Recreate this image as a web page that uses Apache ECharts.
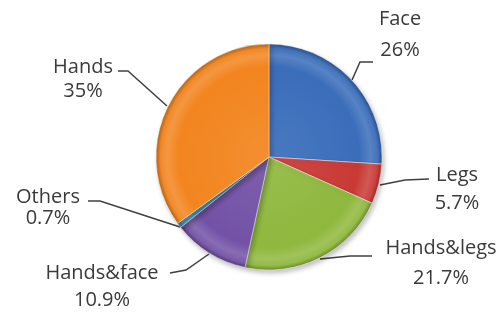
<!DOCTYPE html>
<html>
<head>
<meta charset="utf-8">
<script src="https://cdn.jsdelivr.net/npm/echarts@6/dist/echarts.min.js"></script>
<style>
  html, body { margin: 0; padding: 0; background: #fff; }
  #main { width: 504px; height: 316px; }
</style>
</head>
<body>
<div id="main"></div>
<script>
// data
var categories = ['Face', 'Legs', 'Hands&legs', 'Hands&face', 'Others', 'Hands']
var shares = [26, 5.7, 21.7, 10.9, 0.7, 35]
var colors = ['#3a6dba', '#c93a36', '#8fb83e', '#7352a6', '#3f98c2', '#f2851f']

// label placement (centre of the text block) and leader lines
var labelPos = [
  { x: 400, y: 35, lh: 31, line: [[352, 80], [360, 62], [373, 62]] },
  { x: 457, y: 189, lh: 28, line: [[380, 185], [405, 180], [429, 179]] },
  { x: 441, y: 263, lh: 30, line: [[320, 259], [350, 256], [372, 256]] },
  { x: 102, y: 287, lh: 27, line: [[209, 254], [186, 270], [170, 273]] },
  { x: 48, y: 208, lh: 21, line: [[180, 227], [100, 201], [88, 201]] },
  { x: 83, y: 79, lh: 24, line: [[167, 106], [128, 71], [118, 71]] }
]

var cx = 269
var cy = 157
var r = 113

function shade (hex, k) {
  var n = parseInt(hex.slice(1), 16)
  var c = [(n >> 16) & 255, (n >> 8) & 255, n & 255].map(function (v) {
    v = k > 0 ? v + (255 - v) * k : v * (1 + k)
    return Math.round(v)
  })
  return 'rgb(' + c.join(',') + ')'
}

function fill (hex) {
  return {
    type: 'radial', x: cx, y: cy, r: r, global: true,
    colorStops: [
      { offset: 0, color: shade(hex, 0.08) },
      { offset: 0.8, color: hex },
      { offset: 0.9, color: shade(hex, 0.15) },
      { offset: 0.96, color: shade(hex, 0.05) },
      { offset: 1, color: shade(hex, -0.25) }
    ]
  }
}

var myChart = echarts.init(document.getElementById('main'))

var option = {
  animation: false,
  series: [{
    type: 'pie',
    center: [cx, cy],
    radius: [0, r],
    startAngle: 90,
    clockwise: true,
    data: categories.map(function (name, i) {
      return {
        name: name,
        value: shares[i],
        itemStyle: { color: fill(colors[i]) },
        label: { lineHeight: labelPos[i].lh }
      }
    }),
    itemStyle: {
      borderColor: 'rgba(255,255,255,0.45)',
      borderWidth: 1,
      shadowBlur: 5,
      shadowOffsetX: 2,
      shadowOffsetY: 3,
      shadowColor: 'rgba(0,0,0,0.25)'
    },
    label: {
      show: true,
      position: 'outside',
      formatter: function (p) { return p.name + '\n' + p.value + '%' },
      fontFamily: 'Open Sans',
      fontSize: 20,
      color: '#3a3a3a',
      align: 'center'
    },
    labelLine: {
      show: true,
      lineStyle: { color: '#404040', width: 1.5 }
    },
    labelLayout: function (params) {
      var p = labelPos[params.dataIndex]
      return {
        x: p.x,
        y: p.y,
        align: 'center',
        verticalAlign: 'middle',
        labelLinePoints: p.line
      }
    }
  }]
}

myChart.setOption(option)
</script>
</body>
</html>
